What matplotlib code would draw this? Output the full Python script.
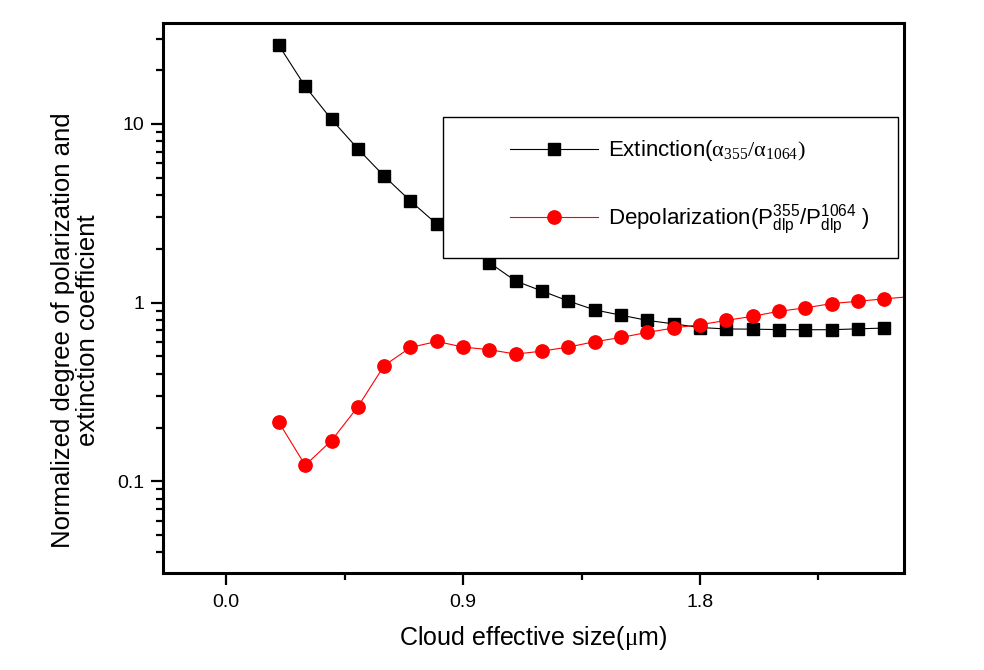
import matplotlib
matplotlib.use("Agg")
import matplotlib.pyplot as plt
from matplotlib.ticker import FixedLocator, MultipleLocator, LogLocator, NullFormatter, FuncFormatter
from matplotlib.legend_handler import HandlerLine2D

plt.rcParams['font.family'] = ['Liberation Sans', 'DejaVu Sans']
plt.rcParams['mathtext.fontset'] = 'custom'
plt.rcParams['mathtext.rm'] = 'Liberation Serif'
plt.rcParams['mathtext.it'] = 'Liberation Serif:italic'
plt.rcParams['mathtext.sf'] = 'Liberation Sans'

# data
size_ext = [0.2, 0.3, 0.4, 0.5, 0.6, 0.7, 0.8, 0.9, 1.0, 1.1, 1.2, 1.3,
            1.4, 1.5, 1.6, 1.7, 1.8, 1.9, 2.0, 2.1, 2.2, 2.3, 2.4, 2.5]
extinction = [27.5, 16.2, 10.6, 7.25, 5.1, 3.7, 2.75, 2.1, 1.67, 1.32, 1.16, 1.02,
              0.91, 0.85, 0.795, 0.76, 0.725, 0.712, 0.71, 0.706, 0.705, 0.705, 0.713, 0.72]

size_dep = [0.2, 0.3, 0.4, 0.5, 0.6, 0.7, 0.8, 0.9, 1.0, 1.1, 1.2, 1.3, 1.4,
            1.5, 1.6, 1.7, 1.8, 1.9, 2.0, 2.1, 2.2, 2.3, 2.4, 2.5, 2.6]
depolarization = [0.214, 0.123, 0.169, 0.261, 0.444, 0.561, 0.606, 0.564, 0.545,
                  0.515, 0.535, 0.564, 0.604, 0.638, 0.681, 0.721, 0.752, 0.795,
                  0.838, 0.894, 0.934, 0.987, 1.017, 1.049, 1.08]

x_major = [0.0, 0.9, 1.8]
y_major = [0.1, 1, 10]

lbl_ext = r'Extinction($\mathrm{\alpha_{355}/\alpha_{1064}}$$\mathrm{)}$'
lbl_dep = r'Depolarization($\mathsf{P_{dlp}^{355}/P_{dlp}^{1064}}$ )'

fig = plt.figure(figsize=(9.84, 6.70), dpi=100)
ax = fig.add_axes([0.1657, 0.1448, 0.753, 0.821])

ax.plot(size_ext, extinction, color='black', lw=0.8, marker='s', ms=8.6,
        mfc='black', mec='black', label=lbl_ext)
ax.plot(size_dep, depolarization, color='red', lw=0.8, marker='o', ms=9.6,
        mfc='red', mec='red', label=lbl_dep)

ax.set_yscale('log')
ax.set_xlim(-0.24, 2.575)
ax.set_ylim(0.0307, 36.7)

ax.xaxis.set_major_locator(FixedLocator(x_major))
ax.xaxis.set_minor_locator(MultipleLocator(0.45))
ax.xaxis.set_major_formatter(FuncFormatter(lambda v, p: '%.1f' % v))
ax.yaxis.set_major_locator(FixedLocator(y_major))
ax.yaxis.set_major_formatter(FuncFormatter(lambda v, p: '%g' % v))
ax.yaxis.set_minor_locator(LogLocator(base=10, subs=range(2, 10)))
ax.yaxis.set_minor_formatter(NullFormatter())

for s in ax.spines.values():
    s.set_linewidth(2.2)
ax.tick_params(which='both', direction='out', top=False, right=False, width=1.6, labelsize=14)
ax.tick_params(which='major', length=8.3)
ax.tick_params(axis='y', which='major', pad=5.5)
ax.tick_params(axis='x', which='major', pad=6.5)
ax.tick_params(which='minor', length=4.8)

ax.set_xlabel(r'Cloud effective size($\mathrm{\mu}$m)', fontsize=18, labelpad=10)
ax.set_ylabel('Normalized degree of polarization and\nextinction coefficient',
              fontsize=18.5, multialignment='center', linespacing=1.05)
ax.yaxis.set_label_coords(-0.085, 0.442)

leg = ax.legend(loc='upper left', bbox_to_anchor=(0.3775, 0.572, 0.6145, 0.2565),
                mode='expand', borderaxespad=0, fontsize=16, frameon=True,
                fancybox=False, edgecolor='black', framealpha=1, handlelength=6.03,
                handletextpad=0.45, labelspacing=1.77, borderpad=0.95, numpoints=1,
                handler_map={ax.lines[0]: HandlerLine2D(xpad=2.07),
                             ax.lines[1]: HandlerLine2D(xpad=2.07)})
leg.get_frame().set_linewidth(1.0)

fig.savefig('out.png', dpi=100)
